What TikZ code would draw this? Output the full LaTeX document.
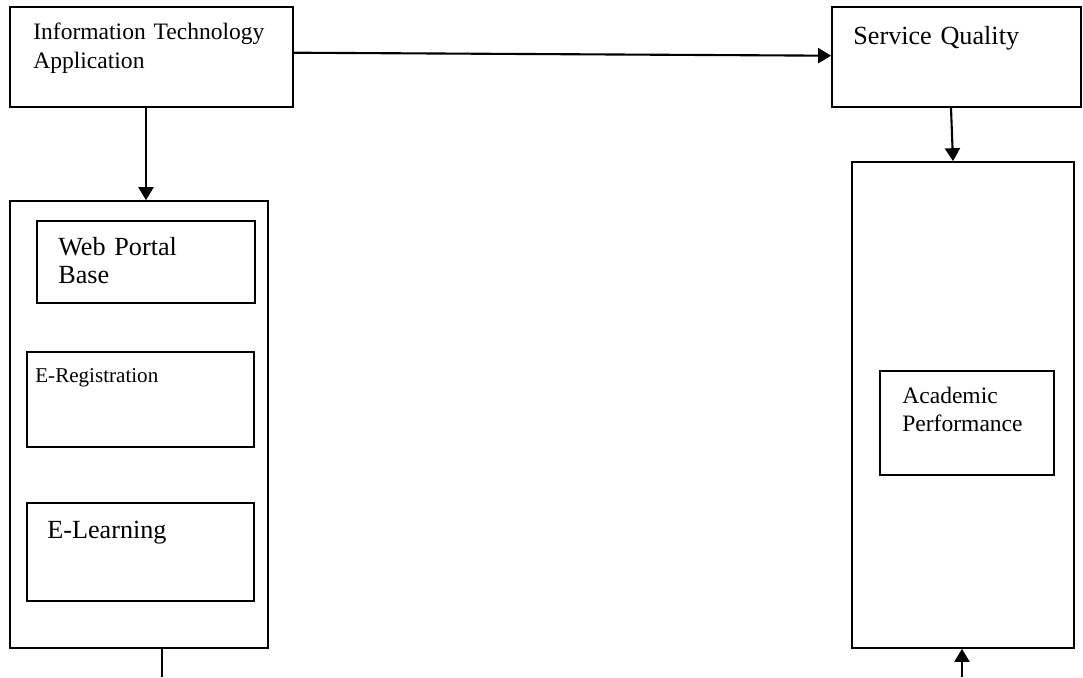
\documentclass[tikz,border=0pt]{standalone}
\usepackage{fontspec}
\setmainfont{Liberation Serif}
\usepackage{tikz}
\usetikzlibrary{arrows.meta, positioning}

\tikzset{
  box/.style={draw, line width=1pt, inner sep=0pt},
  arr/.style={line width=1.2pt, -{Triangle[length=0.26cm, width=0.3cm]}},
  lbl/.style={anchor=base west, inner sep=0pt, align=left, text width=6cm},
  fsmall/.style={font=\fontsize{12}{15}\selectfont},
  fmid/.style={font=\fontsize{13.4}{16.5}\selectfont},
  fbig/.style={font=\fontsize{14.9}{16.5}\selectfont}
}

\begin{document}
\begin{tikzpicture}[x=0.02cm, y=-0.02cm]
  \useasboundingbox (0,0) rectangle (1083,677);

  % top row
  \node[box, minimum width=5.66cm, minimum height=2cm] (ita) at (151.5,57) {};
  \node[box, minimum width=4.98cm, minimum height=2cm] (sq) at (956.5,57) {};
  \node[lbl, fmid] (itaT) at (33,39.3) {Information Technology\\Application};
  \node[lbl, fbig] (sqT) at (853,44) {Service Quality};

  % left column: applications
  \node[box, minimum width=5.16cm, minimum height=8.94cm] (apps) at (139,424.5) {};
  \node[box, minimum width=4.36cm, minimum height=1.64cm] (wpb) at (146,262) {};
  \node[box, minimum width=4.54cm, minimum height=1.9cm] (ereg) at (140.5,399.5) {};
  \node[box, minimum width=4.54cm, minimum height=1.96cm] (elearn) at (140.5,552) {};
  \node[lbl, fbig] (wpbT) at (58,255) {Web Portal\\Base};
  \node[lbl, fsmall] (eregT) at (35,382) {E-Registration};
  \node[lbl, fbig] (elearnT) at (47,538) {E-Learning};

  % right column: performance
  \node[box, minimum width=4.44cm, minimum height=9.72cm] (perf) at (963,405) {};
  \node[box, minimum width=3.48cm, minimum height=2.08cm] (acad) at (967,423) {};
  \node[lbl, fmid] (acadT) at (902,403) {Academic\\Performance};

  % loose ends at the bottom edge
  \coordinate (outL) at (162,677);
  \coordinate (inR) at (962,677);

  % connectors
  \draw[arr] ([yshift=0.086cm]ita.east) -- ([yshift=0.026cm]sq.west);
  \draw[arr] (ita.south -| wpb.north) -- (apps.north -| wpb.north);
  \draw[arr] ([xshift=-0.11cm]sq.south) -- ([xshift=-0.2cm]perf.north);
  \draw[line width=1.2pt] (apps.south -| outL) -- (outL);
  \draw[arr] (inR) -- (perf.south -| inR);
\end{tikzpicture}
\end{document}
